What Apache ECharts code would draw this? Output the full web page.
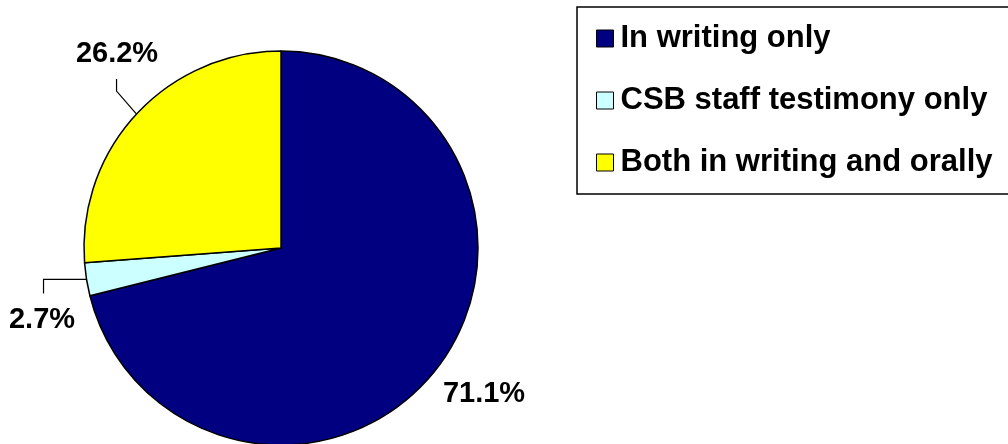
<!DOCTYPE html>
<html>
<head>
<meta charset="utf-8">
<script src="https://cdn.jsdelivr.net/npm/echarts@6/dist/echarts.min.js"></script>
<style>html,body{margin:0;padding:0;background:#fff;}#c{width:1008px;height:444px;}</style>
</head>
<body>
<div id="c"></div>
<script>
const categories = ['In writing only', 'CSB staff testimony only', 'Both in writing and orally'];
const values = [71.1, 2.7, 26.2];
const colors = ['#000080', '#CCFFFF', '#FFFF00'];

const chart = echarts.init(document.getElementById('c'), null, {renderer: 'canvas'});
const FONT = '"Liberation Sans", Arial, sans-serif';

chart.setOption({
  animation: false,
  backgroundColor: '#ffffff',
  legend: {
    orient: 'vertical',
    left: 577,
    top: 7,
    padding: [16, 30, 16, 19],
    itemGap: 31,
    itemWidth: 17,
    itemHeight: 17,
    borderColor: '#000',
    borderWidth: 1.5,
    icon: 'rect',
    itemStyle: {borderColor: '#000', borderWidth: 1},
    textStyle: {fontFamily: FONT, fontWeight: 'bold', fontSize: 31, color: '#000', padding: [0, 0, 0, 2]},
    data: categories
  },
  series: [{
    type: 'pie',
    center: [281, 248],
    radius: 197,
    startAngle: 90,
    clockwise: true,
    avoidLabelOverlap: false,
    itemStyle: {borderColor: '#000', borderWidth: 1.5},
    emphasis: {disabled: true},
    label: {
      show: true,
      position: 'outside',
      formatter: p => p.value.toFixed(1) + '%',
      fontFamily: FONT, fontWeight: 'bold', fontSize: 29, color: '#000'
    },
    labelLine: {show: true, lineStyle: {color: '#000', width: 1.2}},
    labelLayout: function (p) {
      const s = p.labelLinePoints ? p.labelLinePoints[0] : null;
      if (p.dataIndex === 0) {
        return {x: 484, y: 394, align: 'center', verticalAlign: 'middle'};
      }
      if (p.dataIndex === 1 && s) {
        const p1 = [s[0] - 43, s[1]];
        const p2 = [p1[0], p1[1] + 14];
        return {x: 42, y: 320, align: 'center', verticalAlign: 'middle', labelLinePoints: [s, p1, p2]};
      }
      if (p.dataIndex === 2 && s) {
        const p1 = [s[0] - 20, s[1] - 23];
        const p2 = [p1[0], p1[1] - 12];
        return {x: 117, y: 54, align: 'center', verticalAlign: 'middle', labelLinePoints: [s, p1, p2]};
      }
      return {};
    },
    data: categories.map((n, i) => ({
      name: n, value: values[i], itemStyle: {color: colors[i]},
      labelLine: {show: i !== 0}
    }))
  }]
});
</script>
</body>
</html>
